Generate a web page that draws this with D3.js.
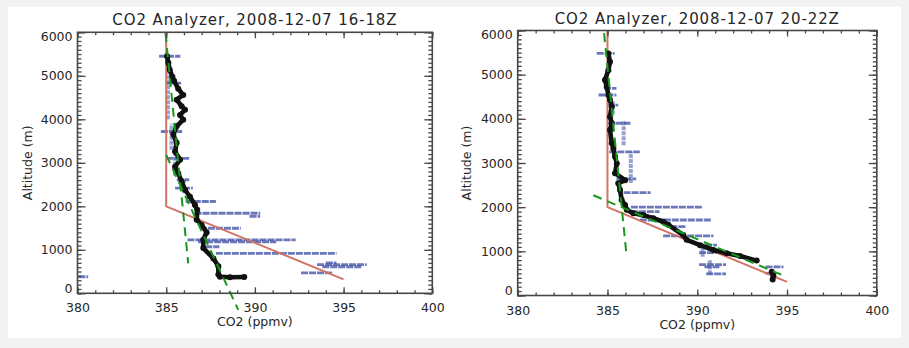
<!DOCTYPE html>
<html>
<head>
<meta charset="utf-8">
<script src="https://cdn.jsdelivr.net/npm/d3@7/dist/d3.min.js"></script>
<style>
  html, body { margin: 0; padding: 0; background: #f2f2f2; }
  svg { display: block; }
  text { font-family: "DejaVu Sans", sans-serif; fill: #262626; }
</style>
</head>
<body>
<svg id="chart" width="909" height="348"></svg>
<script>
// ---------------- DATA ----------------
const titles = ["CO2 Analyzer, 2008-12-07 16-18Z", "CO2 Analyzer, 2008-12-07 20-22Z"];
const xLabel = "CO2 (ppmv)";
const yLabel = "Altitude (m)";
const xDomain = [380, 400];
const yDomain = [0, 6000];
const xTicks = [380, 385, 390, 395, 400];
const yTicks = [0, 1000, 2000, 3000, 4000, 5000, 6000];

// Panel 1 (16-18Z)
const model1 = [[385, 6000], [385, 2000], [395, 320]];
const fitUpper1 = [[384.96, 5980], [386.24, 690]];
const fitLower1 = [[385.0, 3180], [389.06, -380]];
const profile1 = [
  [385.05,5450],[385.12,5300],[385.2,5140],[385.35,4980],[385.45,4880],[385.68,4700],[385.96,4560],
  [385.59,4450],[385.87,4300],[386.06,4220],[385.78,4100],[385.96,3990],[385.59,3840],[385.4,3650],
  [385.59,3460],[385.5,3260],[385.78,3070],[385.5,2910],[385.68,2760],[385.87,2570],[386.06,2380],
  [386.34,2220],[386.62,2030],[386.75,1920],[386.72,1690],[387.0,1570],[387.28,1400],[387.09,1230],
  [387.09,1040],[387.66,800],[387.94,620],[387.94,430],[388.03,380],[388.6,370],[389.4,375]
];
// raw samples, horizontal streaks: [altitude, co2 from, co2 to]
const raw1 = [
  [5450,384.6,385.8],[4830,385.0,385.9],[3720,384.7,385.9],[3100,385.0,386.3],[2610,385.6,386.3],
  [2420,385.5,386.5],[2110,386.1,387.8],[1840,386.6,390.3],[1770,389.7,390.3],[1495,386.9,389.2],
  [1226,386.2,392.3],[1180,386.8,391.2],[1070,387.2,388.0],[920,387.8,394.6],[660,393.5,396.3],
  [610,393.8,396.0],[700,394.0,394.6],[470,392.6,394.4],[380,380.05,380.6]
];
// raw samples, vertical clusters: [co2, altitude from, altitude to]
const rawCols1 = [[385.1,4000,5400],[385.3,3300,3900],[385.5,2700,3200],[386.0,2300,2650]];

// Panel 2 (20-22Z)
const model2 = [[385, 6000], [385, 2000], [395, 310]];
const fitUpper2 = [[384.81, 5940], [386.07, 880]];
const fitLower2 = [[384.21, 2270], [394.8, 450]];
const profile2 = [
  [385.05,5480],[385.14,5290],[385.05,5100],[384.86,4880],[384.96,4730],[385.05,4540],[385.14,4430],
  [385.24,4280],[385.14,4050],[385.24,3900],[385.14,3750],[385.24,3450],[385.33,3330],[385.42,3140],
  [385.52,2990],[385.42,2770],[385.98,2610],[385.6,2540],[385.7,2390],[385.79,2160],[385.98,2050],
  [386.07,1940],[386.44,1860],[387.0,1820],[387.55,1750],[388.11,1670],[388.39,1600],[389.22,1370],
  [389.41,1260],[390.16,1140],[390.9,1030],[391.64,955],[392.38,895],[393.31,790]
];
const profile2b = [[394.15,540],[394.24,450],[394.2,360]];
const raw2 = [
  [5480,384.4,385.4],[4690,384.8,385.5],[4540,384.5,385.5],[4310,385.0,385.6],[3900,385.0,386.3],
  [3250,385.1,386.8],[2640,385.5,386.6],[2330,385.9,387.4],[2000,386.3,390.3],[1900,386.3,387.9],
  [1710,386.8,390.8],[1560,388.5,389.4],[1350,388.1,390.9],[1140,390.0,391.1],[970,390.1,391.6],
  [700,390.1,391.6],[650,390.4,391.3],[490,390.5,391.6],[650,393.8,394.8],[500,393.8,394.4]
];
const rawCols2 = [[385.3,4100,4400],[385.9,3400,3950],[386.3,2550,3250],[390.7,480,800],[390.3,880,1150]];

// ---------------- LAYOUT ----------------
const svg = d3.select("#chart");
svg.append("rect").attr("x", 0).attr("y", 0).attr("width", 909).attr("height", 348).attr("fill", "#f2f2f2");
svg.append("rect").attr("x", 8).attr("y", 7).attr("width", 893).attr("height", 331).attr("fill", "#ffffff");

const panels = [
  { title: titles[0], box: [77.5, 432.3, 32.3, 293.3], model: model1, fits: [fitUpper1, fitLower1],
    profiles: [profile1], raw: raw1, rawCols: rawCols1, titleY: 25, ylabX: 28, xlabY: 326, xtickY: 312 },
  { title: titles[1], box: [517.7, 876.8, 30.5, 295.5], model: model2, fits: [fitUpper2, fitLower2],
    profiles: [profile2, profile2b], raw: raw2, rawCols: rawCols2, titleY: 24, ylabX: 467, xlabY: 329, xtickY: 315 }
];

const C = { axis: "#474747", red: "#d27463", green: "#17981c", blue: "#4656a8", black: "#111" };

panels.forEach(p => {
  const [x0, x1, y0, y1] = p.box;
  const x = d3.scaleLinear().domain(xDomain).range([x0, x1]);
  const y = d3.scaleLinear().domain(yDomain).range([y1, y0]);
  const g = svg.append("g");

  // raw samples (blue)
  g.append("g").selectAll("line.rs").data(p.raw).join("line")
    .attr("x1", d => x(d[1])).attr("x2", d => x(d[2]))
    .attr("y1", d => y(d[0])).attr("y2", d => y(d[0]))
    .attr("stroke", C.blue).attr("stroke-width", 2.8).attr("stroke-opacity", 0.8)
    .attr("stroke-dasharray", "7,1");
  g.append("g").selectAll("line.rc").data(p.rawCols).join("line")
    .attr("x1", d => x(d[0])).attr("x2", d => x(d[0]))
    .attr("y1", d => y(d[1])).attr("y2", d => y(d[2]))
    .attr("stroke", C.blue).attr("stroke-width", 4).attr("stroke-opacity", 0.55)
    .attr("stroke-dasharray", "4,1");

  // model (red)
  const line = d3.line().x(d => x(d[0])).y(d => y(d[1]));
  g.append("path").datum(p.model).attr("d", line)
    .attr("fill", "none").attr("stroke", C.red).attr("stroke-width", 2);

  // smoothed profile (black)
  p.profiles.forEach(pr => {
    g.append("path").datum(pr).attr("d", line)
      .attr("fill", "none").attr("stroke", C.black).attr("stroke-width", 4.6)
      .attr("stroke-linejoin", "round").attr("stroke-linecap", "round");
    g.append("g").selectAll("circle").data(pr).join("circle")
      .attr("cx", d => x(d[0])).attr("cy", d => y(d[1])).attr("r", 3).attr("fill", C.black);
  });

  // fits (green dashed)
  p.fits.forEach(f => {
    g.append("path").datum(f).attr("d", line)
      .attr("fill", "none").attr("stroke", C.green).attr("stroke-width", 2)
      .attr("stroke-dasharray", "9,6");
  });

  // axes
  const mk = (axis, tr) => {
    const a = g.append("g").attr("transform", tr).call(axis);
    a.select(".domain").remove();
    a.selectAll(".tick line").attr("stroke", C.axis).attr("stroke-width", 1.3);
    return a;
  };
  const minorX = d3.range(380, 401, 1);
  const minorY = d3.range(0, 6001, 100);
  mk(d3.axisBottom(x).tickValues(minorX).tickSize(-3).tickFormat(""), `translate(0,${y1})`);
  mk(d3.axisTop(x).tickValues(minorX).tickSize(-3).tickFormat(""), `translate(0,${y0})`);
  mk(d3.axisLeft(y).tickValues(minorY).tickSize(-4).tickFormat(""), `translate(${x0},0)`);
  mk(d3.axisRight(y).tickValues(minorY).tickSize(-4).tickFormat(""), `translate(${x1},0)`);
  const bx = mk(d3.axisBottom(x).tickValues(xTicks).tickSize(-6).tickPadding(0).tickFormat(d3.format("d")), `translate(0,${y1})`);
  bx.selectAll("text").attr("y", p.xtickY - y1).attr("dy", 0).style("font-size", "12.5px");
  mk(d3.axisTop(x).tickValues(xTicks).tickSize(-6).tickFormat(""), `translate(0,${y0})`);
  const ly = mk(d3.axisLeft(y).tickValues(yTicks).tickSize(-8).tickPadding(5).tickFormat(d3.format("d")), `translate(${x0},0)`);
  ly.selectAll("text").style("font-size", "12.5px")
    .attr("dy", d => d === 0 ? "-0.05em" : d === 6000 ? "0.62em" : "0.32em");
  mk(d3.axisRight(y).tickValues(yTicks).tickSize(-8).tickFormat(""), `translate(${x1},0)`);

  // frame
  g.append("rect").attr("x", x0).attr("y", y0).attr("width", x1 - x0).attr("height", y1 - y0)
    .attr("fill", "none").attr("stroke", C.axis).attr("stroke-width", 1.6);

  // titles
  g.append("text").attr("x", (x0 + x1) / 2).attr("y", p.titleY).attr("text-anchor", "middle")
    .style("font-size", "15px").style("letter-spacing", "0.9px").text(p.title);
  g.append("text").attr("x", (x0 + x1) / 2).attr("y", p.xlabY).attr("text-anchor", "middle")
    .style("font-size", "12.5px").text(xLabel);
  g.append("text").attr("transform", `translate(${p.ylabX},${(y0 + y1) / 2}) rotate(-90)`)
    .attr("text-anchor", "middle").attr("dy", "0.35em")
    .style("font-size", "12.5px").text(yLabel);
});
</script>
</body>
</html>
